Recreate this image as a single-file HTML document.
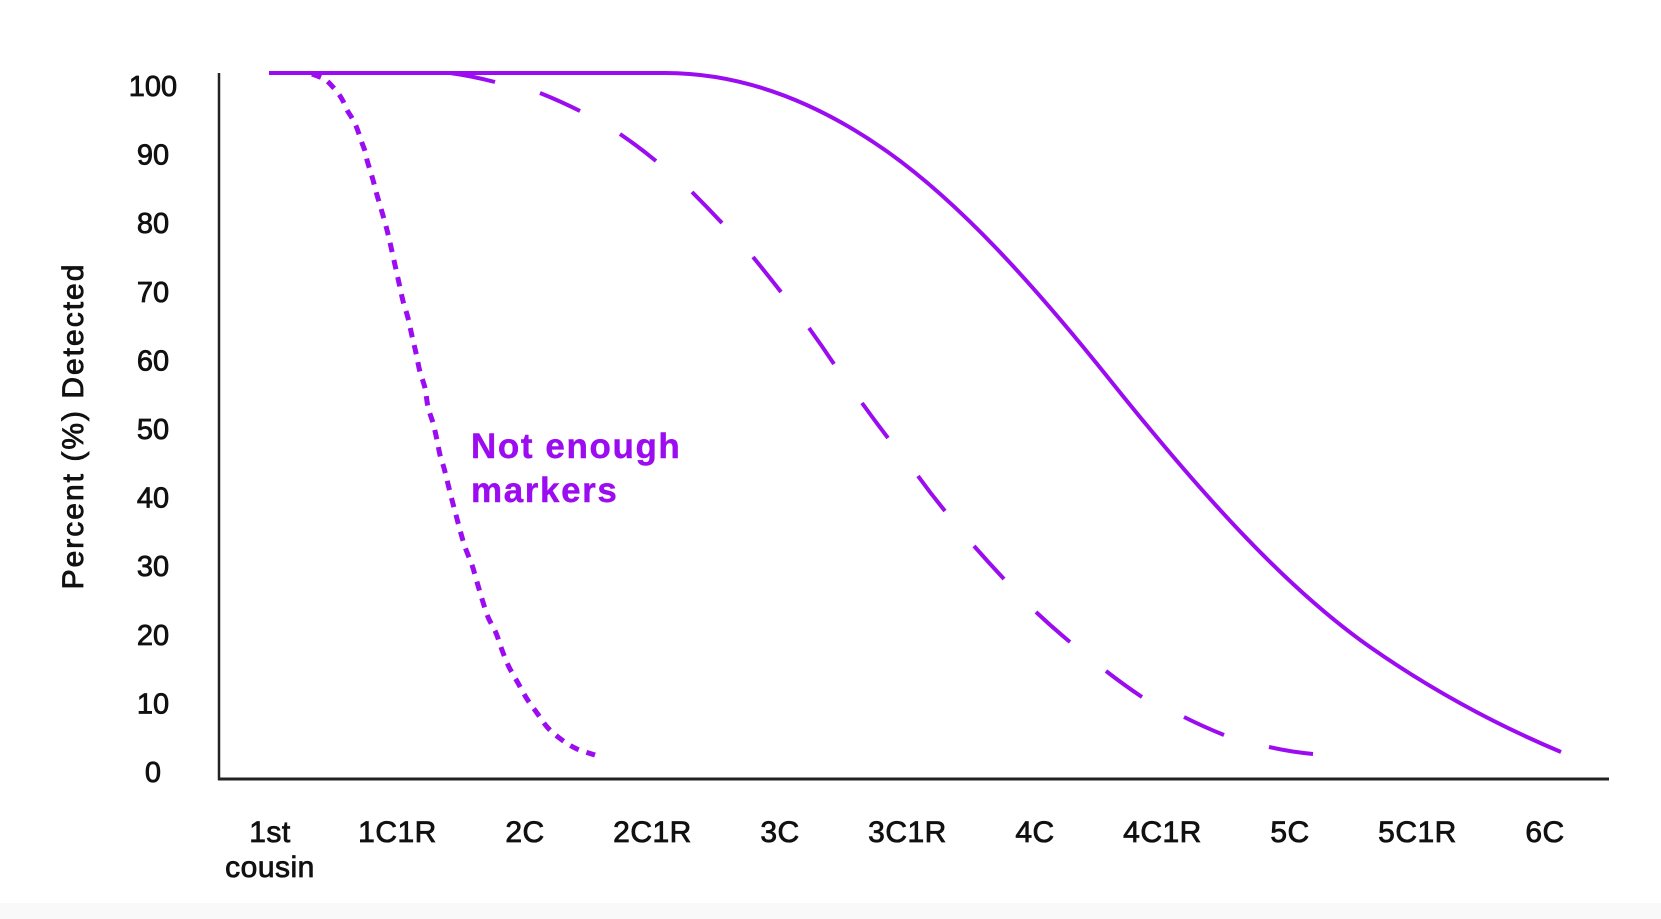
<!DOCTYPE html>
<html>
<head>
<meta charset="utf-8">
<style>
  html,body{margin:0;padding:0;background:#fff;}
  svg{display:block;}
  .tick{font-family:"Liberation Sans",Arial,sans-serif;font-size:29px;fill:#111;stroke:#111;stroke-width:0.8px;}
  .xl{font-family:"Liberation Sans",Arial,sans-serif;font-size:30px;fill:#111;stroke:#111;stroke-width:0.8px;letter-spacing:0.5px;}
  .yt{font-family:"Liberation Sans",Arial,sans-serif;font-size:30px;fill:#111;stroke:#111;stroke-width:0.8px;letter-spacing:2px;}
  .ann{font-family:"Liberation Sans",Arial,sans-serif;font-size:35px;font-weight:bold;fill:#9b0cf0;stroke:#9b0cf0;stroke-width:0.4px;letter-spacing:1.6px;}
</style>
</head>
<body>
<svg width="1661" height="919" viewBox="0 0 1661 919" xmlns="http://www.w3.org/2000/svg">
  <rect x="0" y="0" width="1661" height="919" fill="#ffffff"/>
  <rect x="0" y="903" width="1661" height="16" fill="#f9f9f9"/>

  <!-- axes -->
  <line x1="219" y1="73" x2="219" y2="780" stroke="#222" stroke-width="2.5"/>
  <line x1="218" y1="779" x2="1609" y2="779" stroke="#222" stroke-width="3"/>

  <!-- y tick labels -->
  <g class="tick" text-anchor="middle">
    <text x="153" y="96">100</text>
    <text x="153" y="164.6">90</text>
    <text x="153" y="233.2">80</text>
    <text x="153" y="301.8">70</text>
    <text x="153" y="370.4">60</text>
    <text x="153" y="439">50</text>
    <text x="153" y="507.6">40</text>
    <text x="153" y="576.2">30</text>
    <text x="153" y="644.8">20</text>
    <text x="153" y="713.4">10</text>
    <text x="153" y="782">0</text>
  </g>

  <!-- y axis title -->
  <text class="yt" text-anchor="middle" transform="translate(83,426) rotate(-90)">Percent (%) Detected</text>

  <!-- x labels -->
  <g class="xl" text-anchor="middle">
    <text x="270" y="842">1st</text>
    <text x="270" y="877">cousin</text>
    <text x="397.5" y="842">1C1R</text>
    <text x="525" y="842">2C</text>
    <text x="652.5" y="842">2C1R</text>
    <text x="780" y="842">3C</text>
    <text x="907.5" y="842">3C1R</text>
    <text x="1035" y="842">4C</text>
    <text x="1162.5" y="842">4C1R</text>
    <text x="1290" y="842">5C</text>
    <text x="1417.5" y="842">5C1R</text>
    <text x="1545" y="842">6C</text>
  </g>

  <!-- solid curve -->
  <path fill="none" stroke="#9b0cf0" stroke-width="4" stroke-linejoin="round" stroke-linecap="butt"
    d="M269,73 L665,73 C738.33,73 811.67,98.67 885,150 C960,202.5 1035,286.25 1110,380 C1196.67,488.33 1283.33,586.33 1370,647 C1433.67,691.57 1497.33,725.26 1561,752"/>

  <!-- dashed curve (individual dashes) -->
  <g stroke="#9b0cf0" stroke-width="4" stroke-linecap="butt" fill="none">
    <path d="M450,73 Q472,76 495,82"/>
    <path d="M540,93 Q560,101 580,111"/>
    <path d="M620,134 Q639,147 656,161"/>
    <path d="M692,192 Q707,207 722,223"/>
    <path d="M753,257 Q767,274 781,292"/>
    <path d="M809,328 Q822,346 834,364"/>
    <path d="M862,403 Q875,421 888,438"/>
    <path d="M918,476 Q931,494 945,511"/>
    <path d="M974,546 Q989,563 1004,579"/>
    <path d="M1036,612 Q1053,628 1070,642"/>
    <path d="M1106,671 Q1124,685 1142,697"/>
    <path d="M1184,717 Q1204,727 1224,735"/>
    <path d="M1269,747 Q1291,752 1313,754"/>
  </g>

  <!-- dotted curve -->
  <path id="dotted" fill="none" stroke="#9b0cf0" stroke-width="5" stroke-linejoin="round" stroke-linecap="butt" stroke-dasharray="9.5 8"
    data-pts="312,74 320,77 326,80 332,86 338,93 343,101 347,110 352,118 356,126 359,134 362,143 365,151 367,160 370,170 373,180 377,195 382,212 387,230 391,247 395,265 399,283 403,301 408,318 412,336 416,353 420,372 425,388 428,407 433,423 437,440 440,455 444,468 447,480 452,500 456,515 460,530 465,547 472,565 477,582 482,599 488,617 496,633 502,650 509,667 518,683 527,699 537,713 548,728 562,740 577,749 595,755"
    d="M312,74 L320,77 L326,80 L332,86 L338,93 L343,101 L347,110 L352,118 L356,126 L359,134 L362,143 L365,151 L367,160 L370,170 L373,180 L377,195 L382,212 L387,230 L391,247 L395,265 L399,283 L403,301 L408,318 L412,336 L416,353 L420,372 L425,388 L428,407 L433,423 L437,440 L440,455 L444,468 L447,480 L452,500 L456,515 L460,530 L465,547 L472,565 L477,582 L482,599 L488,617 L496,633 L502,650 L509,667 L518,683 L527,699 L537,713 L548,728 L562,740 L577,749 L595,755"/>

  <!-- annotation -->
  <text class="ann" x="471" y="458">Not enough</text>
  <text class="ann" x="471" y="502">markers</text>
</svg>
<script>
(function(){
  var el=document.getElementById('dotted');
  if(!el) return;
  var p=el.getAttribute('data-pts').trim().split(/\s+/).map(function(s){var a=s.split(',');return [parseFloat(a[0]),parseFloat(a[1])];});
  var n=p.length;
  var d='M'+p[0][0]+','+p[0][1];
  for(var i=0;i<n-1;i++){
    var p0=p[i>0?i-1:i], p1=p[i], p2=p[i+1], p3=p[i+2<n?i+2:i+1];
    var c1x=p1[0]+(p2[0]-p0[0])/6, c1y=p1[1]+(p2[1]-p0[1])/6;
    var c2x=p2[0]-(p3[0]-p1[0])/6, c2y=p2[1]-(p3[1]-p1[1])/6;
    d+=' C'+c1x.toFixed(2)+','+c1y.toFixed(2)+' '+c2x.toFixed(2)+','+c2y.toFixed(2)+' '+p2[0]+','+p2[1];
  }
  el.setAttribute('d',d);
})();
</script>
</body>
</html>
